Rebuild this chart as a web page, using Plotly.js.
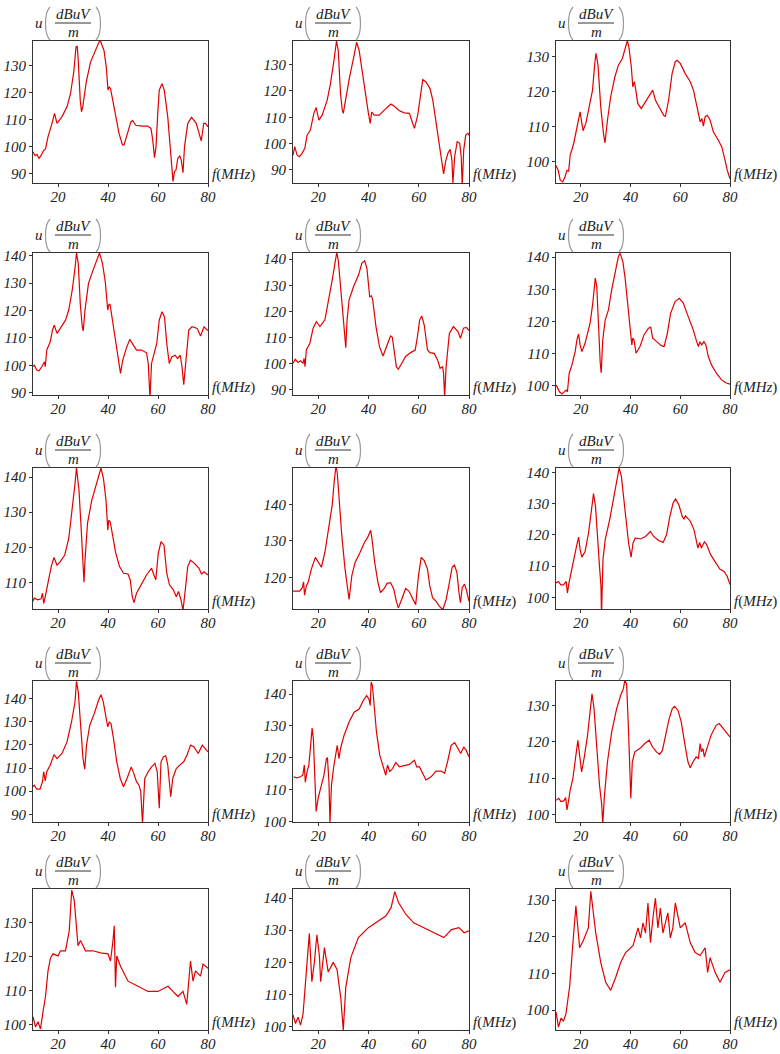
<!DOCTYPE html>
<html>
<head>
<meta charset="utf-8">
<script src="https://cdn.plot.ly/plotly-3.0.1.min.js"></script>
<style>html,body{margin:0;padding:0;background:#fff;}#chart{width:780px;height:1054px;}</style>
</head>
<body>
<div id="chart"></div>
<script>
// ---- data: [f (MHz), u (dBuV/m)] per panel ----
const p1 = [[10,98],[10.8,96.5],[11.6,97],[12.4,95.5],[13.2,96.5],[14.2,98.4],[15,99],[16,103.5],[17.6,108.5],[18.6,112.2],[19.6,108.5],[21.6,111],[23.6,114.6],[25,119.5],[26.3,127.5],[27.2,136.8],[27.7,137],[28.1,131.8],[28.9,117],[29.4,112.8],[29.9,114.6],[31.3,123.8],[33,131.2],[35,135.5],[36.4,138.6],[37,139],[38.4,135.5],[39.3,129.4],[40,120.8],[40.5,122],[41,121.4],[42.4,114.6],[44.4,104.8],[45.8,100.5],[46.4,100.5],[47.8,104.8],[49.1,109],[49.8,109.6],[51.1,107.8],[53.8,107.5],[55.8,107.5],[57.2,106.6],[57.9,102.3],[58.6,95.8],[59.2,99.8],[59.9,112.2],[60.5,120.8],[61.6,123.2],[62.5,120.8],[63.9,110.9],[64.8,101],[65.6,90],[66,87],[66.6,90.6],[67.2,91.2],[67.9,95.5],[68.7,96.4],[69.3,95],[70,90.2],[70.6,99.8],[71.9,108.5],[73.4,110.7],[75.3,108.5],[76.6,104.2],[77.3,102],[78.3,108.5],[79,108.5],[80,107.2]];
const p2 = [[10,95.5],[10.7,98.8],[11.6,95.7],[12.5,95],[13.6,96.3],[14.7,98.2],[15.6,103.2],[16.9,105.1],[18.3,111.5],[19.2,113.7],[20.3,108.9],[21.6,110.8],[23.6,116.5],[24.9,122.8],[26.3,131.6],[27.3,139],[28,135.4],[28.9,119],[29.6,112.7],[30,111.5],[30.9,116.5],[32.5,125.3],[34.3,133.5],[35.3,138.6],[36.3,135.4],[37.6,126.6],[38.9,119],[40,111.5],[40.7,107.7],[41.3,112],[42.3,110.8],[44.3,110.8],[46.3,112.7],[48.9,115],[50.3,114.2],[52.3,112.5],[54.3,111.7],[56.3,111.5],[57.6,107.7],[58.3,105.8],[59.6,110.8],[60.5,116.5],[61.6,124.3],[62.9,123.4],[64.5,120.9],[65.6,116.5],[66.9,107.7],[68.3,100.1],[69.3,92.5],[69.9,88.5],[70.7,93.2],[71.6,96.3],[72.5,97.8],[73.2,93.8],[73.6,85],[74.3,95],[75.3,100.7],[76.3,100.1],[76.9,95],[77.3,84],[77.9,97.6],[78.7,103.2],[79.6,103.9],[80,103.2]];
const p3 = [[10,99],[10.3,98.6],[10.9,97.6],[11.7,94.8],[12.7,94.3],[13.6,95.7],[14.4,97.6],[15.1,97.4],[15.7,101.9],[17.1,105.2],[18,108.1],[18.9,111.9],[19.7,114.3],[20.4,111],[20.9,108.9],[22,111],[23.3,115.7],[24.7,120.5],[25.6,128.1],[26.1,131],[26.9,127.6],[28,115.7],[29.1,108.1],[29.7,105.4],[30.7,111.9],[32,118.6],[33.7,124.3],[35.1,127.6],[36.7,129.5],[38,132.9],[38.7,134.6],[39.3,132.9],[40.3,127.1],[40.9,121.4],[41.5,122.9],[42,121],[42.9,116.7],[44.3,115.2],[46,117.1],[48,119.5],[48.9,120.5],[50,117.6],[51.7,115.2],[53.3,113.3],[54,113],[55.3,117.6],[56.7,125.2],[58,128.6],[58.7,129],[60,128.1],[62,125.2],[64,122.9],[65.3,120.5],[66.7,115.7],[67.6,112.9],[68,111.4],[68.7,112.4],[69.3,110.2],[70,112.9],[70.9,113.3],[72,111.9],[73.3,108.6],[75.3,106.2],[76.7,104.3],[78,100.5],[78.9,97.6],[80,95.2]];
const p4 = [[9.8,99.5],[10.5,100.1],[11.5,98.3],[12.4,98],[13.5,99.5],[14.2,100.7],[14.6,101.3],[14.9,99.5],[15.5,105.6],[16.9,108.6],[17.8,112.9],[18.5,114.7],[19.6,111.7],[20.9,113.5],[23,116.5],[24.3,120.2],[25.7,127.5],[26.8,135.4],[27.4,141],[28.1,137.2],[28.9,122.6],[29.7,114.1],[30.1,112.6],[30.8,120.2],[32.2,129.9],[33.8,134.2],[35.4,138.4],[36.6,141],[37.8,137.2],[38.9,130.5],[39.9,120.2],[40.3,122],[40.8,122.4],[41.4,119],[42.6,111.7],[43.9,104.4],[45,97.1],[45.9,101.9],[47.3,106.2],[48.7,109.5],[50,107.4],[51.4,105.6],[53.4,105.6],[55.4,104.6],[56.1,100.7],[56.8,88],[57.4,100.7],[58.4,104.4],[59.5,108],[60.5,116.5],[61.6,119.6],[62.6,117.7],[63.5,108],[64.5,100.7],[65.5,103.1],[66.9,103.7],[67.8,102.5],[68.9,103.7],[69.6,99.5],[70.3,93],[71.1,101.9],[72.3,112.9],[73.6,114.1],[75.7,113.5],[77,110.7],[78.4,114.1],[80,112.6]];
const p5 = [[10,100],[10.9,101.5],[12,100.3],[13,101],[14,100],[14.4,101.9],[14.8,98.7],[15.3,105.1],[16.7,107.7],[18,113.5],[19.3,116],[20.7,114.1],[22.7,116.7],[24.3,124.4],[25.6,132.1],[26.7,138.5],[27.4,142.6],[28,139.7],[29.1,126.9],[30,117.9],[31,106],[31.5,116.7],[32.3,124.4],[34.1,129.5],[36.1,134],[37.4,138.5],[38.5,139.4],[39.4,136.5],[40.5,125.6],[41.2,125.9],[41.7,124.4],[43,114.1],[44.4,106.4],[45.8,102.8],[47,105.8],[48.8,110.5],[49.5,110],[50.1,105.1],[51.1,98.7],[51.9,97.7],[53.2,100],[54.8,102.6],[56.8,104.1],[58.6,105.1],[59.5,110.3],[60.4,116.7],[61.2,118.2],[62.2,114.7],[63.5,105.1],[64.4,104.1],[66.2,103.8],[67.5,101.3],[68.5,98.1],[69.5,98.7],[69.9,96],[70.3,87],[70.9,98.7],[72.2,111.5],[73.8,114.1],[75.6,112.2],[76.6,109.6],[77.8,113.5],[78.9,113.8],[80,112.6]];
const p6 = [[10.1,100.2],[10.6,99.2],[11.4,98.1],[12.4,97.4],[13.3,98.1],[14.1,98.6],[14.6,98.1],[15.3,103.8],[16.4,106.4],[17.7,110.6],[18.4,114.2],[19.1,116.1],[19.7,112.7],[20.4,110.6],[21.7,113.2],[23.7,119.4],[24.8,125.7],[25.8,133.5],[26.4,130.9],[27.1,117.4],[27.8,107],[28.2,104],[28.8,114.2],[29.8,120.5],[31.1,123.6],[32.4,129.8],[33.8,135],[35.1,140.2],[35.8,141.2],[36.9,138.6],[37.8,133.5],[38.7,126.7],[39.8,119.4],[40.5,112.7],[40.9,114.8],[41.4,114.2],[42.2,110.1],[43.8,112.2],[45.4,115.8],[47.2,117.9],[48.1,118.2],[48.9,114.8],[50.5,113.7],[52.5,112.4],[53.5,112.2],[54.8,116.3],[56.1,122.5],[57.9,126.2],[59.6,127.2],[61.2,125.7],[63.2,121.5],[65.2,117.4],[66.6,113.7],[67.3,112.2],[67.9,113.7],[68.6,112.7],[69.5,113.7],[70.3,112.7],[71.3,109],[72.6,106.4],[74.6,103.8],[76.6,101.8],[78.3,100.9],[80,100.5]];
const p7 = [[9.8,104.5],[10.5,105.5],[11.9,105],[13.2,105.3],[13.8,106.9],[14.3,104],[14.9,105.9],[15.9,109.7],[17.3,114.5],[18.4,117.1],[19.6,114.9],[20.9,115.9],[22.7,117.8],[24.3,122.5],[25.7,130.5],[26.8,138.1],[27.4,142.6],[28.4,136.2],[29.3,124.9],[30,116.3],[30.4,110],[30.8,116.3],[31.8,126.8],[33.5,133.4],[35.1,137.2],[36.5,140.9],[37.2,142.6],[38.2,139.5],[39.2,133.4],[39.9,124.9],[40.3,127.7],[40.9,127.2],[41.6,124.4],[43,118.7],[44.6,114.5],[46.2,112.6],[48,112.4],[48.9,110.7],[49.7,105.9],[50.4,104.2],[51.4,106.9],[53.4,109.3],[55.4,112.1],[57.4,114],[58.4,112.1],[59.1,110.7],[60.1,118.2],[61.2,121.6],[62.4,120.6],[63.5,112.6],[64.6,109.3],[66.2,107.8],[67.3,105.9],[68.2,107.4],[69.2,105],[70,102],[70.9,107.8],[71.9,114.5],[73,116.3],[74.6,115.4],[76.4,114],[77.4,112.4],[78.4,113],[80,112.1]];
const p8 = [[10,116.3],[11.3,116.3],[12.6,116.3],[13.7,117.2],[14.2,118.8],[14.6,115.2],[15.3,117.7],[16,118.6],[17.3,122.3],[18.9,125.5],[20,124.1],[21.3,122.8],[22.7,126.9],[24.3,133.4],[25.6,139.8],[26.4,146.3],[27.1,150.5],[27.6,148.6],[28.3,140.7],[29.4,131.5],[30.7,122.3],[31.8,115.4],[32.3,114],[33.4,120.5],[34.7,124.1],[36.7,126.9],[38.5,129.7],[39.8,131.1],[40.5,132],[40.9,132.9],[41.4,130.6],[42.5,124.1],[43.8,118.6],[44.8,115.9],[46.1,116.8],[47.4,118.4],[48.8,118.6],[50.1,116.8],[51.1,113.5],[51.9,111.7],[53.2,114],[54.8,117],[56.1,116.3],[57.5,114.5],[58.8,112.6],[59.9,120.5],[61,125.5],[62.2,124.6],[63.5,122.3],[64.4,117.7],[65.5,114.5],[66.9,113.5],[68.2,112.2],[69.6,111.2],[70.9,114],[72.2,118.6],[73.3,122.8],[74.2,123.4],[75.2,121.4],[76,115.9],[76.6,113.1],[77.3,117.2],[78.2,118.2],[78.9,116.8],[80,113.5]];
const p9 = [[10,104.6],[11,105.1],[11.9,104],[13,104],[14.1,105.1],[14.6,101.4],[15.2,104.6],[15.7,106.7],[17,111],[18.1,115.8],[19.1,119.3],[19.7,115.3],[20.4,112.9],[21.7,114.7],[23.1,120.6],[24.2,128.1],[25.1,133.2],[25.9,129.1],[26.7,117.4],[27.5,109.9],[28.1,103.5],[28.3,94],[28.9,112.1],[29.8,118.5],[31.6,124.9],[33.2,132.3],[34.5,137.1],[35.4,141.4],[36.3,138.7],[37.2,132.3],[38.3,124.9],[39.2,117.4],[40.2,112.9],[41,117.4],[41.9,119],[44,118.7],[46,119.5],[48,121.1],[49.3,119.5],[51.3,118.2],[53.1,117.6],[54.5,120.1],[55.8,125.9],[57.1,130.2],[58.1,131.5],[59.4,129.7],[60.8,125.9],[61.5,125.1],[62.1,126.1],[64.1,124.3],[65.5,121.7],[66.6,117.4],[67.1,115.8],[67.8,117.6],[68.5,115.8],[69.7,117.8],[70.6,116.9],[72.2,113.7],[74.2,111],[75.9,109.1],[77.6,108.3],[78.9,106.7],[80,104.1]];
const p10 = [[9.8,101.9],[10.5,102.6],[11.5,100.9],[12.8,100.9],[13.8,104.1],[14.3,108.4],[14.9,104.4],[15.5,108.4],[16.9,111.3],[18.4,115.8],[19.6,114.1],[21.6,116.3],[23.6,121.3],[25.4,129.9],[26.8,138.6],[27.4,147.5],[28.1,142.9],[29.1,125.6],[30,114.1],[30.7,109.5],[31.4,119.9],[32.7,128.5],[34.5,133.5],[36.2,139.3],[37.2,141.7],[38.1,138.6],[39.2,131.4],[39.9,127.8],[40.5,129.9],[41.2,129.2],[42.2,122.8],[43.5,112.7],[44.9,105.5],[46.2,101.9],[47.6,105.5],[49.3,110.5],[50.3,107.7],[51.4,104.1],[52.4,102.6],[53.1,99.8],[53.8,86],[54.7,105.5],[56.1,108.4],[57.4,110.5],[58.8,112],[59.7,108.4],[60.5,92.6],[61.2,112.7],[62.2,114.9],[63.1,115.3],[63.9,111.3],[64.6,104.1],[65.1,97.6],[65.9,105.5],[67.3,109.8],[68.9,111.5],[70.3,112.7],[71.6,115.6],[73,119.9],[74.3,119.2],[76.1,116.3],[77.7,119.9],[79.1,118.2],[80,117]];
const p11 = [[10.3,114],[11.6,113.7],[12.9,114],[13.9,114.5],[14.5,117.7],[14.9,112.3],[15.6,115.6],[16.3,117.7],[16.9,122.9],[17.6,129.3],[18.1,126],[18.7,109.4],[19.2,103.1],[20,107.3],[20.9,109.9],[22.3,114.5],[23.3,119.7],[23.7,119.9],[24.3,112.5],[24.7,99.5],[25.3,111.4],[26.3,117.7],[27.6,123.9],[28.3,119.7],[28.9,122.9],[30.3,127],[32.3,131.2],[34.3,134.3],[36.3,135.3],[37.9,137.9],[39.3,139.5],[40.3,138.2],[40.7,136.4],[41.1,143.8],[41.6,142.6],[42.3,136.4],[43.2,128.1],[44.5,120.8],[45.9,116.6],[46.9,114.5],[47.6,117.7],[48.5,115.6],[49.6,116.6],[50.9,118.5],[52.3,117.1],[54.3,117.5],[56.3,117.9],[58.3,119.2],[59.2,117.1],[60.3,117.1],[61.6,115.1],[62.9,113],[64.9,114],[66.9,115.8],[68.9,115.8],[70.3,115.1],[71.6,119.2],[72.9,123.9],[74.3,124.7],[75.6,122.9],[76.7,121.3],[77.9,123.4],[78.9,122.3],[80,120.3]];
const p12 = [[10.1,103.9],[11.1,104.4],[12,103.5],[13.1,103.7],[13.9,104.6],[14.4,101.2],[15.1,103.9],[15.7,106.7],[16.8,109.9],[17.9,115.4],[18.8,120.4],[19.5,116.3],[20.3,111.7],[21.3,115.4],[22.7,121.8],[23.7,128.2],[24.5,133.2],[25.3,129.1],[26.4,117.2],[27.5,108],[28.4,102.6],[28.8,97.2],[29.5,105.3],[30.7,114.4],[32.4,122.7],[34.4,129.1],[36,132.7],[37.1,134.6],[37.7,136.9],[38.4,135.9],[39.1,124.5],[39.7,111.7],[40.1,104.4],[40.7,114.4],[41.7,117.2],[43.7,118.1],[45.7,119.5],[47.5,120.4],[48.8,118.6],[50.4,117.2],[51.7,116.5],[52.8,117.6],[54.1,121.8],[55.5,126.3],[56.8,129.1],[57.7,129.7],[59.1,128.6],[60.4,125.4],[61.7,119.9],[63.1,114.4],[64,112.8],[65.1,114.4],[66.4,115.8],[67.3,115.4],[68,119.5],[68.5,117.2],[69.1,118.1],[69.7,115.8],[70.7,118.1],[72.4,121.8],[74.4,124.5],[75.7,125],[77.3,123.6],[80,121.3]];
const p13 = [[10,102.4],[11,99.4],[12,100.9],[13,98.8],[14,103.9],[15,108.3],[16,115.8],[17,119.6],[18,120.8],[20,120.2],[21,121.7],[23,121.7],[24.5,127.6],[25.5,139.5],[26.5,136.5],[27.5,126.1],[28,123.2],[29,124.7],[31,121.7],[34,121.7],[37,121.1],[40,120.8],[41,118.7],[42,124.7],[42.5,129],[43,111],[43.5,120.2],[45,117.2],[48,112.8],[52,111.3],[56,109.8],[60,109.8],[64,111.3],[66,109.8],[68,108.3],[70,109.8],[71.5,106],[73,118.7],[74,112.8],[75,115.8],[77,114.3],[78,117.8],[80,116.6]];
const p14 = [[10,103.7],[11,101],[12,103],[13,100.5],[14,104],[15,115],[16,125],[16.5,129],[17.5,114],[18.5,120],[19.5,128.6],[20.5,122],[21,114],[22.5,124.6],[24,117],[26,120],[27.5,117.8],[29,109],[30,99],[31,112.3],[33,121.5],[36,127.7],[40,130.8],[44,133],[47,134.5],[49,137],[50.5,142],[52,138.5],[55,134.8],[58,132.3],[62,130.8],[66,129.2],[70,127.7],[73,130.2],[76,130.8],[78,129.2],[80,129.8]];
const p15 = [[10,99.5],[11,95.4],[12,97.8],[13,97],[14,99],[15.5,106.5],[17,120],[18,128.4],[19.5,117],[21,119],[23,122.4],[24,132.4],[26,121],[28,113],[30,107.6],[32,105.4],[34,108.9],[36,113],[38,115.7],[41,117.6],[43,122.4],[44,119.7],[45,123.8],[46,121],[47,129.2],[48,118.4],[49,125.1],[50,130.5],[51,122.4],[52,127.8],[53,121],[55,126.5],[56,119.7],[57,122.4],[58,129.2],[60,122.4],[62,123.8],[64,118.4],[66,115.7],[68,114.9],[70,117],[71,110.3],[72,114.3],[74,110.3],[76,107.6],[78,110.3],[80,111]];

const freqRange = [10, 80];
const freqTicks = [20, 40, 60, 80];
const uRanges = [
  [86.4,139],[85,139],[94,134.5],
  [89.2,141],[87.8,142.4],[97.1,141.3],
  [102.4,142.6],[111.4,149.9],[96.3,141.4],
  [86.7,147.6],[99.8,144.1],[97.9,136.7],
  [98.5,139.8],[99,142.8],[94.6,133]
];
const panels = [p1,p2,p3,p4,p5,p6,p7,p8,p9,p10,p11,p12,p13,p14,p15];

// ---- layout geometry (pixels) ----
const W = 780, H = 1054;
const colX = [[33,208],[293,469],[556,730]];
const rowY = [[41,183],[253,395],[468,609],[681,822],[889,1030]];
const px = v => v / W;
const py = v => 1 - v / H;
const serif = 'Liberation Serif, Times New Roman, serif';

const traces = [];
const layout = {
  width: W, height: H,
  margin: {l:0, r:0, t:0, b:0},
  paper_bgcolor: '#fff', plot_bgcolor: '#fff',
  showlegend: false,
  annotations: [], shapes: []
};

panels.forEach((p, i) => {
  const n = i + 1, s = n === 1 ? '' : String(n);
  const [x0, x1] = colX[i % 3];
  const [y0, y1] = rowY[Math.floor(i / 3)];
  traces.push({
    x: p.map(a => a[0]), y: p.map(a => a[1]),
    xaxis: 'x' + s, yaxis: 'y' + s,
    mode: 'lines', line: {color: '#e00000', width: 1.2},
    hoverinfo: 'skip'
  });
  const axBase = {
    ticks: 'outside', ticklen: 3, tickwidth: 1, tickcolor: '#333',
    showline: true, mirror: true, linecolor: '#333', linewidth: 1,
    showgrid: false, zeroline: false, fixedrange: true,
    tickfont: {family: serif, size: 15, color: '#222', style: 'italic'}
  };
  layout['xaxis' + s] = Object.assign({}, axBase, {
    domain: [px(x0), px(x1)], range: freqRange, anchor: 'y' + s,
    tickmode: 'array', tickvals: freqTicks, ticklabelstandoff: -3
  });
  layout['yaxis' + s] = Object.assign({}, axBase, {
    domain: [py(y1), py(y0)], range: uRanges[i], anchor: 'x' + s,
    tick0: 0, dtick: 10
  });

  const fnt = {family: serif, size: 15, color: '#222'};
  const ann = (x, y, text, xa) => layout.annotations.push({
    xref: 'paper', yref: 'paper', x: px(x), y: py(y), text: text,
    showarrow: false, xanchor: xa || 'center', yanchor: 'middle', font: fnt
  });
  ann(x0 + 6, y0 - 18, '<i>u</i>');
  ann(x0 + 40, y0 - 27, '<i>dBuV</i>');
  ann(x0 + 40, y0 - 9, '<i>m</i>');
  ann(x1 + 2, y1 - 8, '<i>f</i>(<i>MHz</i>)', 'left');
  // fraction bar
  layout.shapes.push({type: 'line', xref: 'paper', yref: 'paper',
    x0: px(x0 + 22), x1: px(x0 + 58), y0: py(y0 - 18), y1: py(y0 - 18),
    line: {color: '#333', width: 1}});
  // big parentheses
  const lp = x0 + 17, rp = x0 + 63, t = y0 - 34, b = y0 - 1;
  layout.shapes.push({type: 'path', xref: 'paper', yref: 'paper',
    path: `M ${px(lp)},${py(t)} C ${px(lp-6)},${py(t+6)} ${px(lp-6)},${py(b-6)} ${px(lp)},${py(b)}`,
    line: {color: '#999', width: 1.2}});
  layout.shapes.push({type: 'path', xref: 'paper', yref: 'paper',
    path: `M ${px(rp)},${py(t)} C ${px(rp+6)},${py(t+6)} ${px(rp+6)},${py(b-6)} ${px(rp)},${py(b)}`,
    line: {color: '#999', width: 1.2}});
});

Plotly.newPlot('chart', traces, layout, {staticPlot: true, displayModeBar: false});
</script>
</body>
</html>
